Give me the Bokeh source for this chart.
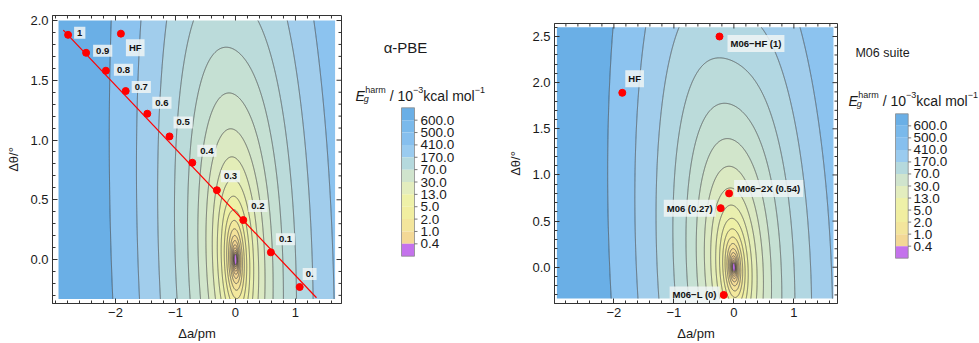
import numpy as np
from bokeh.plotting import figure
from bokeh.models import Range1d, FixedTicker, PrintfTickFormatter, Spacer
from bokeh.layouts import row, column
from bokeh.embed import file_html
from bokeh.resources import INLINE
from bokeh.core.properties import value

FONT = "Liberation Sans"

# ---------------- data ----------------
# grid domain of the energy surface (Δa in pm, Δθ in degrees)
da_domain = [-2.95, 1.66]
dt_domain_pbe = [-0.33, 2.0]
dt_domain_m06 = [-0.34, 2.6]

k_a = 140.0      # Δa^2 coefficient
k_at = 18.2      # Δa·Δθ coupling
k_t0 = 28.4      # Δθ^2 coefficient at Δa = 0
k_tinf = 16.5    # Δθ^2 coefficient far from Δa = 0
soft_a = 1.0     # how fast the Δθ stiffness relaxes with Δa

# contour levels (10^-3 kcal/mol)
levels = [0.063, 0.102, 0.165, 0.27, 0.43, 0.70, 1.13, 1.84, 2.98, 4.82, 7.81, 12.6,
          20.5, 33.2, 53.8, 87.1, 141.0, 229.0, 370.0, 600.0]
# band fill colours, inner (lowest) to outer (highest)
band_colors = ["#C472EC", "#EBC288", "#EDC68A", "#EFCB8D", "#F1CF8F", "#F3D592",
               "#F3DB96", "#F4E29A", "#F3E89D", "#F1EDA1", "#EEF0A6", "#E9EFAF",
               "#E3EDB8", "#DBE9C2", "#D1E5CB", "#C5E0D3", "#BBDBDA", "#B2D7E2",
               "#A1CDEC", "#8CC3EF", "#6AAFE6"]

legend_ticks = ["600.0", "500.0", "410.0", "170.0", "70.0", "30.0",
                "13.0", "5.0", "2.0", "1.0", "0.4"]
legend_colors = ["#6AAFE6", "#7AB9EB", "#86BFEE", "#9ACBEF", "#B5D9DD", "#D0E4CD",
                 "#E3EDBE", "#EEF1A8", "#F1EEA0", "#F3E59C", "#F3D896", "#C472EC"]

# α-PBE scan
alpha_labels = ["1", "0.9", "0.8", "0.7", "0.6", "0.5", "0.4", "0.3", "0.2", "0.1", "0."]
alpha_da = [-2.79, -2.49, -2.16, -1.83, -1.47, -1.10, -0.72, -0.31, 0.13, 0.59, 1.07]
alpha_dt = [1.88, 1.73, 1.58, 1.41, 1.22, 1.03, 0.81, 0.58, 0.33, 0.06, -0.23]
hf_pbe_da = [-1.91]
hf_pbe_dt = [1.89]
fit_da = [-2.87, 1.35]
fit_dt = [1.92, -0.32]

# M06 suite
m06_labels = ["HF", "M06−HF (1)", "M06−2X (0.54)", "M06 (0.27)", "M06−L (0)"]
m06_da = [-1.86, -0.24, -0.08, -0.22, -0.17]
m06_dt = [1.89, 2.50, 0.80, 0.64, -0.30]

# label placement (screen px): text offset from its point
alpha_dx = [6, 7, 8, 6, 5, 4, 5, 4, 5, 5, 3]
alpha_dy = [-2, -2, -1, -4, -11, -14, -12, -14, -14, -13, -13]
m06_align = ["left", "left", "left", "right", "right"]
m06_dx = [3, 8, 5, -5, -4]
m06_dy = [-14, 7, -5, 0, 0]

TOP, BOTTOM = 15, 40
INK = "#333333"


def surface(dt_domain):
    xs = np.round(np.arange(da_domain[0], da_domain[1] + 1e-9, 0.01), 4)
    ys = np.round(np.arange(dt_domain[0], dt_domain[1] + 1e-9, 0.005), 4)
    X, Y = np.meshgrid(xs, ys)
    kt = k_tinf + (k_t0 - k_tinf) / (1.0 + soft_a * X**2)
    Z = k_a * X**2 + k_at * X * Y + kt * Y**2
    return xs, ys, Z


def style_axis(ax):
    ax.major_tick_in = 5
    ax.major_tick_out = 0
    ax.minor_tick_in = 3
    ax.minor_tick_out = 0
    ax.axis_line_color = INK
    ax.major_tick_line_color = INK
    ax.minor_tick_line_color = INK
    ax.major_label_text_font = FONT
    ax.major_label_text_color = "#1a1a1a"
    ax.major_label_text_font_size = "13px"
    ax.major_label_standoff = 4
    ax.axis_label_standoff = 6
    ax.axis_label_text_font = FONT
    ax.axis_label_text_font_size = "13px"
    ax.axis_label_text_font_style = "normal"
    ax.axis_label_text_color = "#1a1a1a"


def make_panel(width, height, bl, br, xr, yr, dt_domain, yticks, yminor):
    fw = width - bl - br
    fh = height - TOP - BOTTOM
    p = figure(width=width, height=height, x_range=Range1d(*xr), y_range=Range1d(*yr),
               toolbar_location=None, output_backend="svg",
               min_border_left=bl, min_border_right=br,
               min_border_top=TOP, min_border_bottom=BOTTOM)
    p.grid.visible = False
    p.outline_line_color = INK
    p.background_fill_color = "white"
    p.border_fill_color = "white"

    xs, ys, Z = surface(dt_domain)
    lv = [-1.0] + levels + [1.0e5]
    p.contour(x=xs, y=ys, z=Z, levels=lv, fill_color=band_colors,
              line_color="#2b2b2b", line_alpha=0.85, line_width=0.7)

    xmaj = [-2, -1, 0, 1]
    xmin = [round(v, 1) for v in np.arange(-3.0, 1.81, 0.2) if round(v, 1) not in (-2.0, -1.0, 0.0, 1.0)]
    p.xaxis.ticker = FixedTicker(ticks=xmaj, minor_ticks=xmin)
    p.xaxis.major_label_overrides = {-2: "−2", -1: "−1", 0: "0", 1: "1"}
    p.xaxis.axis_label = "Δa/pm"
    p.yaxis.ticker = FixedTicker(ticks=yticks, minor_ticks=yminor)
    p.yaxis.formatter = PrintfTickFormatter(format="%.1f")
    p.yaxis.axis_label = "Δθ/°"
    for ax in p.xaxis + p.yaxis:
        style_axis(ax)

    # mirrored inward ticks on the top and right frame edges
    ux = fw / (xr[1] - xr[0])
    uy = fh / (yr[1] - yr[0])
    for ticks, ln in ((xmaj, 5), (xmin, 3)):
        p.segment(x0=ticks, y0=[yr[1]] * len(ticks), x1=ticks,
                  y1=[yr[1] - ln / uy] * len(ticks), line_color=INK, line_width=1)
    for ticks, ln in ((yticks, 5), (yminor, 3)):
        p.segment(x0=[xr[1]] * len(ticks), y0=ticks, x1=[xr[1] - ln / ux] * len(ticks),
                  y1=ticks, line_color=INK, line_width=1)
    return p


def add_labels(p, xs, ys, texts, dxs, dys, align):
    for x, y, t, dx, dy, al in zip(xs, ys, texts, dxs, dys, align):
        p.text(x=[x], y=[y], text=[t], x_offset=dx, y_offset=dy,
               text_font=value(FONT), text_font_size="9.5px", text_font_style="bold",
               text_color="#111111", text_align=al, text_baseline="middle",
               background_fill_color="#EEF4F4", background_fill_alpha=0.85,
               padding=3)


# ---------------- left panel: α-PBE ----------------
pa = make_panel(345, 343, 52, 4, (-3.05, 1.767), (-0.368, 2.042), dt_domain_pbe,
                [0, 0.5, 1.0, 1.5, 2.0],
                [round(v, 1) for v in np.arange(-0.3, 2.01, 0.1) if round(v, 1) not in (0.0, 0.5, 1.0, 1.5, 2.0)])
pa.line(fit_da, fit_dt, line_color="#FF0000", line_width=1.2)
pa.scatter(alpha_da, alpha_dt, size=7, color="#FF0000")
pa.scatter(hf_pbe_da, hf_pbe_dt, size=7, color="#FF0000")
add_labels(pa, alpha_da, alpha_dt, alpha_labels, alpha_dx, alpha_dy, ["left"] * len(alpha_labels))
add_labels(pa, hf_pbe_da, hf_pbe_dt, ["HF"], [5], [14], ["left"])

# ---------------- right panel: M06 suite ----------------
pc = make_panel(340, 335, 54, 3, (-2.99, 1.727), (-0.393, 2.641), dt_domain_m06,
                [0, 0.5, 1.0, 1.5, 2.0, 2.5],
                [round(v, 1) for v in np.arange(-0.3, 2.61, 0.1) if round(v, 1) not in (0.0, 0.5, 1.0, 1.5, 2.0, 2.5)])
pc.scatter(m06_da, m06_dt, size=7, color="#FF0000")
add_labels(pc, m06_da, m06_dt, m06_labels, m06_dx, m06_dy, m06_align)


# ---------------- legends ----------------
def legend_fig(width, height, off, name, name_x, name_y, name_size, tx, tb, sx0, sx1, sy0, sy1, lx):
    # data units equal screen pixels measured from the top of the page
    lp = figure(width=width, height=height, x_range=Range1d(0, width),
                y_range=Range1d(off + height - BOTTOM, off + TOP),
                toolbar_location=None, output_backend="svg",
                min_border_left=0, min_border_right=0,
                min_border_top=TOP, min_border_bottom=BOTTOM,
                x_axis_type=None, y_axis_type=None)
    lp.grid.visible = False
    lp.outline_line_color = None
    lp.background_fill_color = "white"
    lp.border_fill_color = "white"

    lp.text(x=[name_x], y=[name_y], text=[name], text_font=value(FONT),
            text_font_size=name_size, text_align="center", text_baseline="middle",
            text_color="#1a1a1a")

    main, small = 14, 9
    wE = 0.667 * main
    x_h = tx + wE + 0.5
    x_sl = x_h + 2.278 * small + 0.278 * main
    x_m3 = x_sl + 1.668 * main
    x_k = x_m3 + 1.14 * small
    x_m1 = x_k + 3.667 * main
    pieces = [
        ("E", tx, tb, main, "italic"),
        ("harm", x_h, tb - 0.42 * main, small, "normal"),
        ("g", tx + wE - 1.0, tb + 0.22 * main, small, "italic"),
        ("/ 10", x_sl, tb, main, "normal"),
        ("−3", x_m3, tb - 0.42 * main, small, "normal"),
        ("kcal mol", x_k, tb, main, "normal"),
        ("−1", x_m1, tb - 0.42 * main, small, "normal"),
    ]
    for t, x, y, s, st in pieces:
        lp.text(x=[x], y=[y], text=[t], text_font=value(FONT), text_font_size=f"{s}px",
                text_font_style=st, text_align="left", text_baseline="alphabetic",
                text_color="#1a1a1a")

    n = len(legend_colors)
    h = (sy1 - sy0) / n
    tops = [sy0 + i * h for i in range(n)]
    bots = [sy0 + (i + 1) * h for i in range(n)]
    lp.quad(left=sx0, right=sx1, top=tops, bottom=bots, fill_color=legend_colors,
            line_color=None)
    lp.quad(left=[sx0], right=[sx1], top=[sy0], bottom=[sy1], fill_color=None,
            line_color="#8a8a8a", line_width=0.8)
    yb = bots[:-1]
    lp.segment(x0=[sx1] * len(yb), y0=yb, x1=[sx1 + 3] * len(yb), y1=yb,
               line_color="#555555", line_width=0.8)
    lp.text(x=[lx] * len(yb), y=yb, text=legend_ticks, text_font=value(FONT),
            text_font_size="13.5px", text_align="left", text_baseline="middle",
            text_color="#1a1a1a")
    return lp


la = legend_fig(155, 343, 0, "α-PBE", 60, 47, "15px", 10, 95, 56, 69, 107.3, 255.7, 75)
lc = legend_fig(139, 343, 0, "M06 suite", 42, 52, "12.5px", 8, 100, 55, 67.7, 113.3, 257.7, 73)

layout = row(pa, la, column(Spacer(width=340, height=8), pc, spacing=0), lc, spacing=0)
open("out.html", "w").write(file_html(layout, INLINE))
